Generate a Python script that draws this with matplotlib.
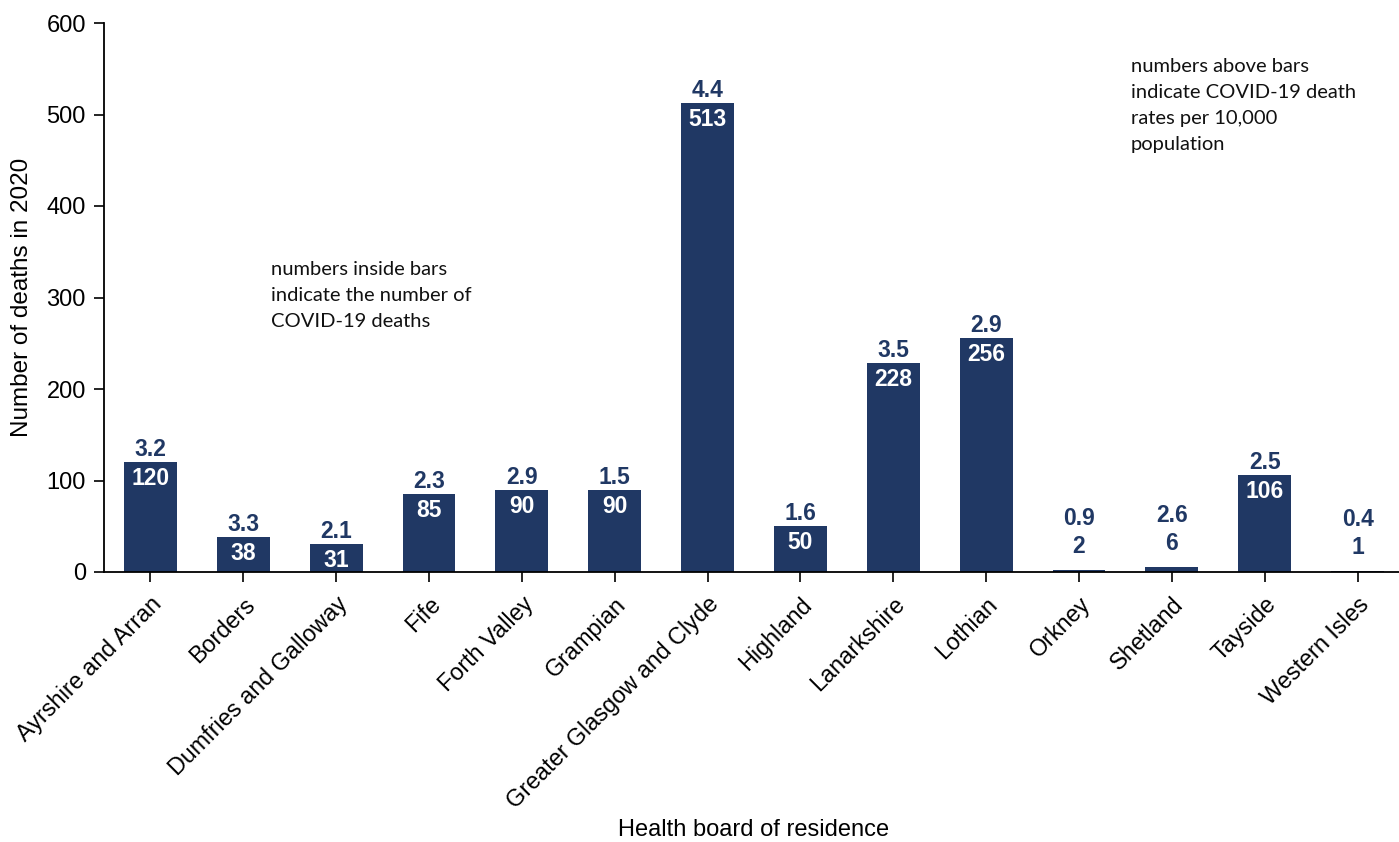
import matplotlib
matplotlib.use("Agg")
import matplotlib.pyplot as plt

categories = ["Ayrshire and Arran", "Borders", "Dumfries and Galloway", "Fife",
              "Forth Valley", "Grampian", "Greater Glasgow and Clyde", "Highland",
              "Lanarkshire", "Lothian", "Orkney", "Shetland", "Tayside", "Western Isles"]
deaths = [120, 38, 31, 85, 90, 90, 513, 50, 228, 256, 2, 6, 106, 1]
rates = ["3.2", "3.3", "2.1", "2.3", "2.9", "1.5", "4.4", "1.6", "3.5", "2.9", "0.9", "2.6", "2.5", "0.4"]
yticks = [0, 100, 200, 300, 400, 500, 600]

NAVY = "#203864"
plt.rcParams['font.family'] = ['Liberation Sans', 'DejaVu Sans']

W, H = 1399, 842
fig = plt.figure(figsize=(W / 100, H / 100), dpi=100)
left, right, top, bottom = 104, 1404, 23, 572
ax = fig.add_axes([left / W, 1 - bottom / H, (right - left) / W, (bottom - top) / H])

x = list(range(len(categories)))
bars = ax.bar(x, deaths, width=0.57, color=NAVY, zorder=2)

ax.set_xlim(-0.5, len(categories) - 0.5)
ax.set_ylim(0, 600)
ax.set_yticks(yticks)
ax.set_xticks(x)
ax.set_xticklabels(categories, rotation=45, ha='right', rotation_mode='anchor', fontsize=16.8)
ax.tick_params(axis='y', labelsize=17, length=7, width=1.2, direction='out', pad=6)
ax.tick_params(axis='x', length=7, width=1.2, direction='out', pad=8)
for s in ['top', 'right']:
    ax.spines[s].set_visible(False)
for s in ['left', 'bottom']:
    ax.spines[s].set_linewidth(1.3)

LBL = 16.5
for xi, d, r in zip(x, deaths, rates):
    if d >= 20:
        ax.annotate(str(d), (xi, d), xytext=(0, -5), textcoords='offset pixels',
                    ha='center', va='top', color='white', fontsize=LBL, fontweight='bold')
        ax.annotate(r, (xi, d), xytext=(0, 1), textcoords='offset pixels',
                    ha='center', va='bottom', color=NAVY, fontsize=LBL, fontweight='bold')
    else:
        ax.annotate(str(d), (xi, d), xytext=(0, 12), textcoords='offset pixels',
                    ha='center', va='bottom', color=NAVY, fontsize=LBL, fontweight='bold')
        ax.annotate(r, (xi, d), xytext=(0, 40), textcoords='offset pixels',
                    ha='center', va='bottom', color=NAVY, fontsize=LBL, fontweight='bold')

ax.set_ylabel("Number of deaths in 2020", fontsize=17.5, labelpad=10)
fig.text(754 / W, 1 - 830 / H, "Health board of residence", fontsize=17,
         ha='center', va='center')

fig.text(271 / W, 1 - 261 / H, "numbers inside bars\nindicate the number of\nCOVID-19 deaths",
         fontsize=14.5, family=['Lato', 'DejaVu Sans'], ha='left', va='top', linespacing=1.65,
         color='#111111')
fig.text(1131 / W, 1 - 58 / H, "numbers above bars\nindicate COVID-19 death\nrates per 10,000\npopulation",
         fontsize=14.5, family=['Lato', 'DejaVu Sans'], ha='left', va='top', linespacing=1.65,
         color='#111111')

fig.savefig("out.png", dpi=100)
